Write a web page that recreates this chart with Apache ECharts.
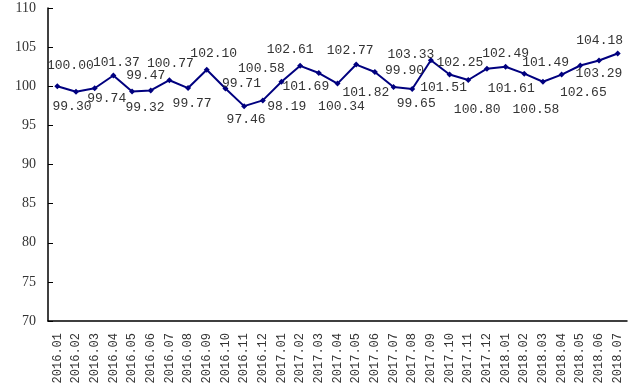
<!DOCTYPE html>
<html><head><meta charset="utf-8">
<script src="https://cdn.jsdelivr.net/npm/echarts@6/dist/echarts.min.js"></script>
<style>html,body{margin:0;padding:0;background:#fff}#c{width:636px;height:391px}</style>
</head><body><div id="c"></div>
<script>
const categories = ['2016.01','2016.02','2016.03','2016.04','2016.05','2016.06','2016.07','2016.08','2016.09','2016.10','2016.11','2016.12',
  '2017.01','2017.02','2017.03','2017.04','2017.05','2017.06','2017.07','2017.08','2017.09','2017.10','2017.11','2017.12',
  '2018.01','2018.02','2018.03','2018.04','2018.05','2018.06','2018.07'];
const values = [100.00,99.30,99.74,101.37,99.32,99.47,100.77,99.77,102.10,99.71,97.46,98.19,
  100.58,102.61,101.69,100.34,102.77,101.82,99.90,99.65,103.33,101.51,100.80,102.25,
  102.49,101.61,100.58,101.49,102.65,103.29,104.18];
const yTicks = [70,75,80,85,90,95,100,105,110];

// label offsets (layout only), relative to each point
const labelOffsets = [[13,-21],[-4,15],[12,10],[3,-13],[13,16],[-5,-15],[1,-17],[4,16],[7,-16],[16,-5],
  [2,13],[24,6],[-20,-13],[-10,-16],[-13,14],[4,23],[-6,-14],[-9,21],[11,-16],[4,15],
  [-20,-6],[-6,13],[9,30],[-27,-6],[0,-13],[-13,15],[-7,28],[-16,-12],[3,27],[0,13],[-18,-13]];

const chart = echarts.init(document.getElementById('c'));
chart.setOption({
  animation:false,
  grid:{left:48,right:9,top:8,bottom:70,containLabel:false},
  xAxis:{type:'category',data:categories,boundaryGap:true,
    axisLine:{lineStyle:{color:'#000',width:1.5}},
    axisTick:{inside:true,length:5,lineStyle:{color:'#000'}},
    axisLabel:{rotate:90,margin:12,fontFamily:'Liberation Mono',fontSize:12,color:'#333',interval:0}},
  yAxis:{type:'value',min:yTicks[0],max:yTicks[yTicks.length-1],interval:5,
    axisLine:{show:true,lineStyle:{color:'#000',width:1.5}},
    axisTick:{show:true,inside:true,length:5,lineStyle:{color:'#000'}},
    splitLine:{show:false},
    axisLabel:{margin:12,fontFamily:'Liberation Serif',fontSize:14,color:'#333'}},
  series:[{type:'line',
    data: values.map((v,i)=>({value:v,label:{offset:labelOffsets[i]}})),
    symbol:'diamond',symbolSize:6,
    lineStyle:{color:'#00007f',width:2},
    itemStyle:{color:'#00007f'},
    label:{show:true,position:'inside',fontFamily:'Liberation Mono',fontSize:13,color:'#333',
      formatter:p=>p.value.toFixed(2)}
  }]
});
</script></body></html>
